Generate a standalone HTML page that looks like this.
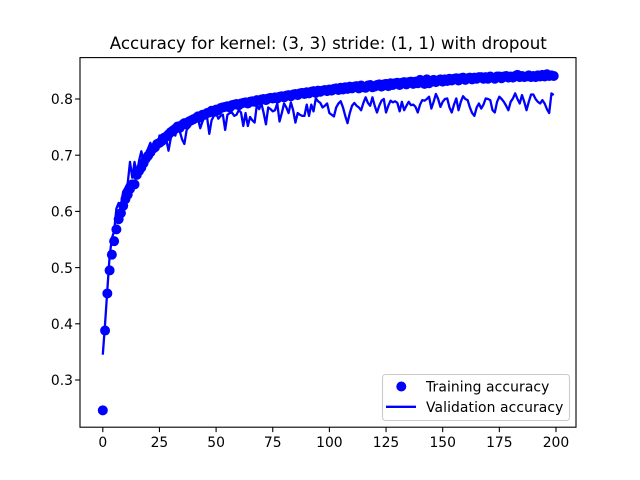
<!DOCTYPE html>
<html lang="en">
<head>
<meta charset="utf-8">
<title>Accuracy chart</title>
<style>
html,body{margin:0;padding:0;background:#fff;width:640px;height:480px;overflow:hidden}
svg{display:block;font-family:"DejaVu Sans","Liberation Sans",sans-serif}
text{fill:#000}
</style>
</head>
<body>
<svg id="chart" width="640" height="480" viewBox="0 0 640 480">
<rect x="0" y="0" width="640" height="480" fill="#fff"></rect>
<g id="ticks"></g>
<g id="marks"></g>
<rect x="80" y="57.6" width="496" height="369.6" fill="none" stroke="#000" stroke-width="1.1"></rect>
<text x="328.3" y="49" text-anchor="middle" font-size="16.67" letter-spacing="0.02">Accuracy for kernel: (3, 3) stride: (1, 1) with dropout</text>
<g>
<rect x="382.5" y="374.5" width="187" height="46" rx="3" ry="3" fill="#fff" fill-opacity="0.8" stroke="#ccc" stroke-width="1.1"></rect>
<circle cx="401.3" cy="386.5" r="5" fill="#0000ff"></circle>
<text x="426" y="391.5" font-size="13.89" letter-spacing="0.1">Training accuracy</text>
<line x1="386" x2="416" y1="406.8" y2="406.8" stroke="#0000ff" stroke-width="2.3"></line>
<text x="426" y="412" font-size="13.89" letter-spacing="0.1">Validation accuracy</text>
</g>
</svg>
<script>
const xTicks = [0, 25, 50, 75, 100, 125, 150, 175, 200];
const yTicks = [0.3, 0.4, 0.5, 0.6, 0.7, 0.8];
const trainingAccuracy = [
.246,.388,.454,.495,.523,.547,.568,.586,.597,.610,
.622,.630,.640,.648,.648,.665,.672,.678,.686,.694,
.699,.705,.711,.714,.720,.722,.725,.731,.733,.737,
.741,.744,.747,.751,.749,.754,.757,.755,.760,.762,
.764,.766,.769,.767,.772,.772,.775,.776,.779,.777,
.781,.780,.784,.785,.786,.787,.785,.789,.790,.791,
.789,.792,.793,.794,.792,.795,.796,.795,.798,.797,
.799,.800,.798,.801,.802,.801,.803,.801,.804,.805,
.803,.806,.807,.805,.808,.809,.807,.810,.811,.809,
.812,.810,.813,.814,.811,.815,.813,.815,.816,.814,
.817,.815,.818,.819,.816,.820,.817,.821,.818,.822,
.819,.822,.823,.819,.824,.821,.820,.824,.825,.821,
.822,.825,.826,.822,.826,.827,.823,.828,.825,.828,
.829,.825,.829,.830,.826,.830,.831,.827,.831,.828,
.834,.829,.827,.835,.828,.832,.834,.830,.833,.835,
.831,.835,.832,.836,.833,.836,.837,.833,.837,.838,
.834,.837,.838,.835,.838,.836,.839,.839,.836,.839,
.836,.840,.838,.836,.840,.840,.837,.840,.841,.838,
.840,.838,.841,.843,.839,.841,.839,.840,.842,.839,
.841,.839,.842,.840,.843,.840,.844,.841,.842,.841
];
const validationAccuracy = [
.345,.400,.460,.520,.552,.565,.605,.615,.612,.635,
.642,.650,.688,.660,.688,.665,.690,.707,.690,.700,
.712,.722,.705,.725,.712,.735,.725,.738,.728,.708,
.730,.745,.735,.750,.742,.728,.720,.745,.750,.755,
.760,.762,.765,.748,.760,.772,.768,.738,.762,.770,
.775,.765,.770,.772,.745,.772,.775,.776,.770,.772,
.780,.776,.752,.775,.752,.768,.762,.758,.790,.782,
.792,.775,.755,.785,.782,.778,.780,.792,.760,.775,
.792,.785,.775,.794,.780,.758,.775,.772,.770,.770,
.790,.770,.790,.778,.801,.796,.793,.785,.788,.792,
.775,.772,.769,.785,.792,.796,.785,.770,.757,.775,
.788,.793,.788,.785,.780,.793,.803,.793,.788,.803,
.788,.776,.788,.797,.800,.776,.788,.797,.794,.796,
.793,.778,.795,.780,.788,.795,.789,.790,.786,.776,
.790,.798,.797,.800,.804,.783,.795,.809,.800,.786,
.795,.800,.801,.785,.776,.790,.801,.780,.795,.805,
.800,.798,.785,.775,.770,.785,.792,.783,.790,.801,
.800,.798,.780,.776,.795,.804,.800,.795,.788,.780,
.795,.801,.810,.800,.792,.807,.795,.780,.795,.808,
.808,.800,.795,.792,.798,.792,.782,.775,.810,.807
];
const X_LEFT = 102.8, X_SCALE = 2.2659;
const Y_ORIGIN = 380, Y_SCALE = 562;
function xPos(v) { return X_LEFT + v * X_SCALE; }
function yPos(v) { return Y_ORIGIN - (v - 0.3) * Y_SCALE; }
const SVG_NS = 'http://www.w3.org/2000/svg';
const ticksGroup = document.getElementById('ticks');
const marksGroup = document.getElementById('marks');

xTicks.forEach(function (t) {
  const mark = document.createElementNS(SVG_NS, 'line');
  
  
  mark.setAttribute('x1', xPos(t));
  mark.setAttribute('x2', xPos(t));
  mark.setAttribute('y1', 427.2);
  mark.setAttribute('y2', 432.1);
  mark.setAttribute('stroke', '#000');
  mark.setAttribute('stroke-width', 1.1);
  ticksGroup.appendChild(mark);
  const label = document.createElementNS(SVG_NS, 'text');
  
  
  label.setAttribute('x', xPos(t));
  label.setAttribute('y', 447);
  label.setAttribute('text-anchor', 'middle');
  label.setAttribute('font-size', 13.89);
  label.textContent = String(t);
  ticksGroup.appendChild(label);
});

yTicks.forEach(function (t) {
  const mark = document.createElementNS(SVG_NS, 'line');
  
  
  mark.setAttribute('x1', 75.1);
  mark.setAttribute('x2', 80);
  mark.setAttribute('y1', yPos(t));
  mark.setAttribute('y2', yPos(t));
  mark.setAttribute('stroke', '#000');
  mark.setAttribute('stroke-width', 1.1);
  ticksGroup.appendChild(mark);
  const label = document.createElementNS(SVG_NS, 'text');
  
  
  label.setAttribute('x', 73);
  label.setAttribute('y', yPos(t) + 5.2);
  label.setAttribute('text-anchor', 'end');
  label.setAttribute('font-size', 13.89);
  label.textContent = t.toFixed(1);
  ticksGroup.appendChild(label);
});

trainingAccuracy.forEach(function (v, i) {
  const dot = document.createElementNS(SVG_NS, 'circle');
  
  
  dot.setAttribute('cx', xPos(i));
  dot.setAttribute('cy', yPos(v));
  dot.setAttribute('r', 5);
  dot.setAttribute('fill', '#0000ff');
  marksGroup.appendChild(dot);
});

const validationLine = document.createElementNS(SVG_NS, 'polyline');


validationLine.setAttribute('points', validationAccuracy.map(function (v, i) {
  return xPos(i).toFixed(2) + ',' + yPos(v).toFixed(2);
}).join(' '));
validationLine.setAttribute('fill', 'none');
validationLine.setAttribute('stroke', '#0000ff');
validationLine.setAttribute('stroke-width', 2.3);
validationLine.setAttribute('stroke-linejoin', 'round');
marksGroup.appendChild(validationLine);
</script>
</body>
</html>
